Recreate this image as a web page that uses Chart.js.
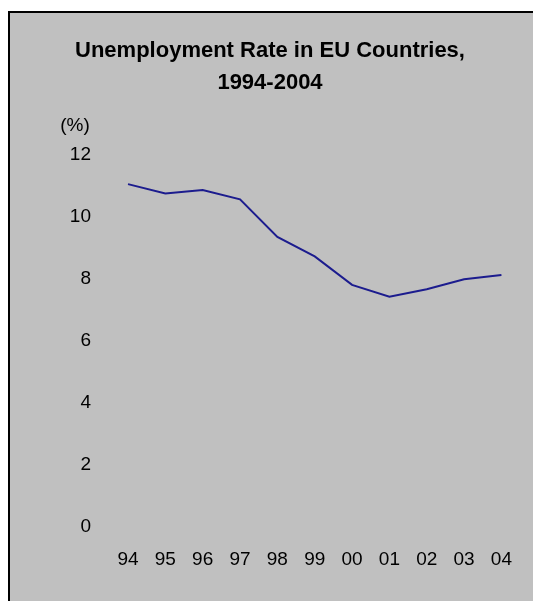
<!DOCTYPE html>
<html>
<head>
<meta charset="utf-8">
<script src="https://cdn.jsdelivr.net/npm/chart.js@4/dist/chart.umd.min.js"></script>
<style>
  html, body { margin: 0; padding: 0; background: #ffffff; width: 533px; height: 601px; overflow: hidden; }
  #frame { position: absolute; left: 8px; top: 11px; width: 560px; height: 620px; background: #c0c0c0;
           border-left: 2px solid #000; border-top: 2px solid #000; }
  #c { position: absolute; left: 0; top: 0; }
</style>
</head>
<body>
<div id="frame"></div>
<canvas id="c" width="533" height="601"></canvas>
<script>
// ---- data ----
const titleLines = ["Unemployment Rate in EU Countries,", "1994-2004"];
const unitLabel = "(%)";
const years = ["94", "95", "96", "97", "98", "99", "00", "01", "02", "03", "04"];
const unemploymentRate = [11.06, 10.76, 10.87, 10.57, 9.36, 8.73, 7.81, 7.43, 7.67, 7.99, 8.13];
const yTicks = [0, 2, 4, 6, 8, 10, 12];

const FONT = "'Liberation Sans', Arial, sans-serif";

const unitLabelPlugin = {
  id: 'unitLabel',
  afterDraw(chart) {
    const ctx = chart.ctx;
    ctx.save();
    ctx.font = "19px " + FONT;
    ctx.fillStyle = "#000";
    ctx.textAlign = "center";
    ctx.textBaseline = "middle";
    ctx.fillText(unitLabel, chart.chartArea.left - 53, chart.chartArea.top - 29);
    ctx.restore();
  }
};

new Chart(document.getElementById('c'), {
  type: 'line',
  data: {
    labels: years,
    datasets: [{
      data: unemploymentRate,
      borderColor: '#1c1c8e',
      borderWidth: 2,
      pointRadius: 0,
      tension: 0,
      fill: false
    }]
  },
  options: {
    responsive: false,
    animation: false,
    devicePixelRatio: 1,
    layout: { padding: { left: 38, right: 31, top: 0, bottom: 0 } },
    plugins: {
      legend: { display: false },
      tooltip: { enabled: false },
      title: {
        display: true,
        text: titleLines,
        color: '#000',
        font: { family: FONT, size: 22, weight: 'bold', lineHeight: 32 / 22 },
        padding: { top: 35, bottom: 56 }
      }
    },
    scales: {
      x: {
        type: 'category',
        offset: false,
        grid: { display: false, drawTicks: false },
        border: { display: false },
        ticks: { color: '#000', font: { family: FONT, size: 19 }, padding: 21, maxRotation: 0, autoSkip: false },
        afterFit(scale) { scale.height = 74; }
      },
      y: {
        min: 0,
        max: 12,
        afterBuildTicks(scale) { scale.ticks = yTicks.map(v => ({ value: v })); },
        grid: { display: false, drawTicks: false },
        border: { display: false },
        ticks: { color: '#000', font: { family: FONT, size: 19 }, padding: 37 },
        afterFit(scale) { scale.width = 90; }
      }
    }
  },
  plugins: [unitLabelPlugin]
});
</script>
</body>
</html>
